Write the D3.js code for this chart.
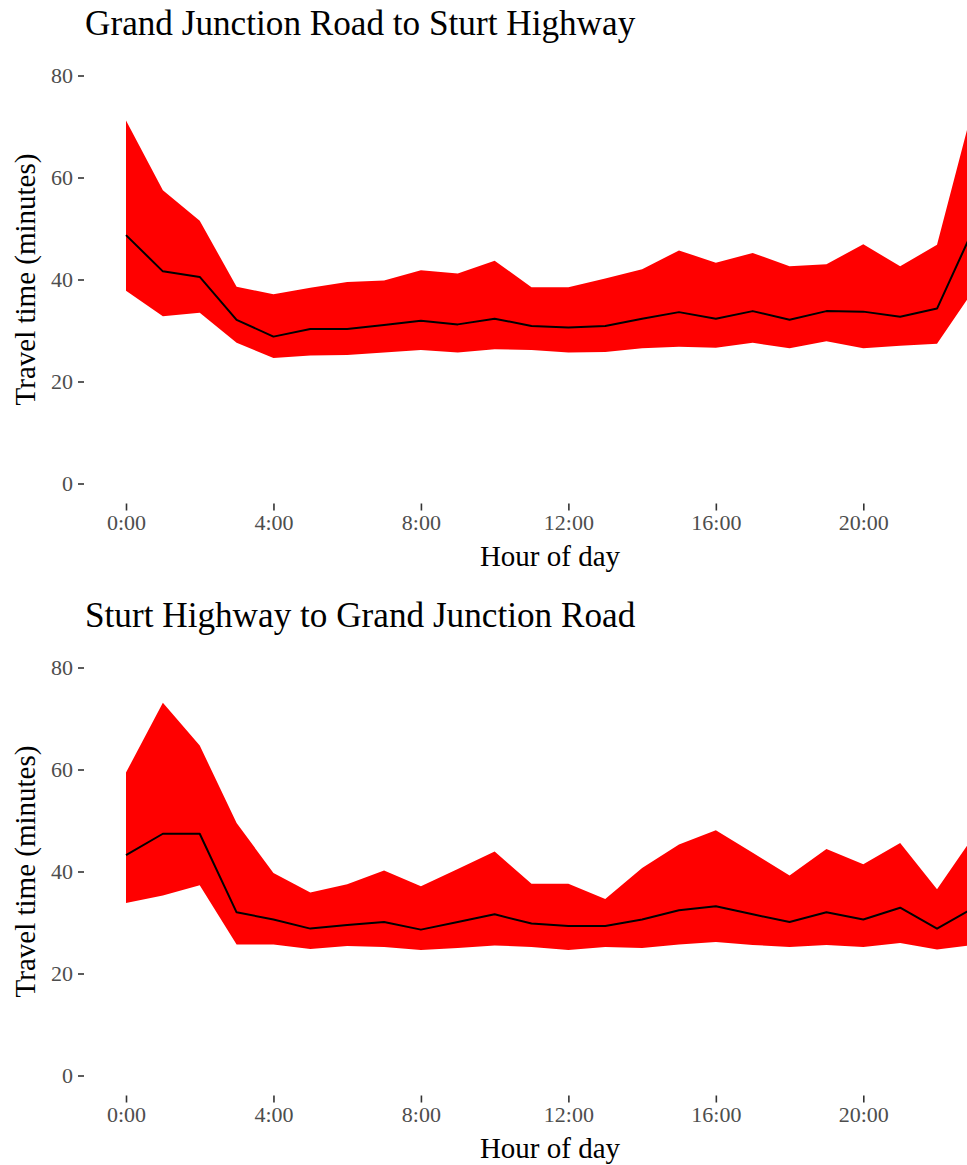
<!DOCTYPE html>
<html>
<head>
<meta charset="utf-8">
<script src="https://cdn.jsdelivr.net/npm/d3@7"></script>
<style>
  html, body { margin: 0; padding: 0; background: #fff; }
  svg { display: block; }
  text { font-family: "Liberation Serif", "Times New Roman", serif; }
</style>
</head>
<body>
<script>
// ---- Data ----
const hours = d3.range(0, 24);
const xTickValues = [0, 4, 8, 12, 16, 20];
const xTickLabels = ["0:00", "4:00", "8:00", "12:00", "16:00", "20:00"];
const yTickValues = [0, 20, 40, 60, 80];

const titles = ["Grand Junction Road to Sturt Highway", "Sturt Highway to Grand Junction Road"];

// Panel 1: Grand Junction Road -> Sturt Highway
const p1Upper = [71.2, 57.5, 51.5, 38.6, 37.1, 38.4, 39.5, 39.8, 41.8, 41.2, 43.7, 38.5,
                 38.5, 40.2, 42.0, 45.7, 43.3, 45.2, 42.6, 43.0, 46.9, 42.6, 46.8, 74.5];
const p1Mean  = [48.7, 41.6, 40.5, 32.1, 28.8, 30.3, 30.3, 31.1, 31.9, 31.2, 32.3, 30.9,
                 30.6, 30.9, 32.3, 33.6, 32.3, 33.8, 32.1, 33.8, 33.7, 32.7, 34.3, 50.1];
const p1Lower = [37.8, 32.8, 33.5, 27.6, 24.6, 25.1, 25.2, 25.7, 26.2, 25.7, 26.3, 26.2,
                 25.7, 25.8, 26.5, 26.8, 26.6, 27.6, 26.5, 27.9, 26.5, 27.0, 27.4, 38.0];

// Panel 2: Sturt Highway -> Grand Junction Road
const p2Upper = [59.4, 73.1, 64.7, 49.5, 39.7, 35.9, 37.5, 40.2, 37.1, 40.5, 43.9, 37.6,
                 37.6, 34.6, 40.7, 45.3, 48.1, 43.7, 39.2, 44.4, 41.4, 45.6, 36.5, 47.0];
const p2Mean  = [43.2, 47.4, 47.4, 32.0, 30.6, 28.8, 29.5, 30.1, 28.6, 30.1, 31.6, 29.8,
                 29.3, 29.3, 30.6, 32.4, 33.2, 31.6, 30.1, 32.0, 30.6, 32.9, 28.8, 32.9];
const p2Lower = [33.8, 35.3, 37.3, 25.7, 25.7, 24.8, 25.4, 25.2, 24.6, 25.0, 25.5, 25.2,
                 24.6, 25.2, 25.0, 25.7, 26.2, 25.6, 25.2, 25.6, 25.2, 26.0, 24.7, 25.6];

const panels = [
  {title: titles[0], upper: p1Upper, mean: p1Mean, lower: p1Lower, offset: 0},
  {title: titles[1], upper: p2Upper, mean: p2Mean, lower: p2Lower, offset: 592}
];

// ---- Layout ----
const W = 967, H = 1165;
const svg = d3.select("body").append("svg")
  .attr("width", W).attr("height", H)
  .attr("viewBox", `0 0 ${W} ${H}`);

const x = d3.scaleLinear().domain([0, 20]).range([126, 863.3]);

panels.forEach(p => {
  const g = svg.append("g").attr("transform", `translate(0,${p.offset})`);
  const y = d3.scaleLinear().domain([0, 80]).range([483.5, 75.5]);

  const rows = hours.map((h, i) => ({h, lo: p.lower[i], hi: p.upper[i], m: p.mean[i]}));

  g.append("path")
    .datum(rows)
    .attr("fill", "#FF0000")
    .attr("d", d3.area().x(d => x(d.h)).y0(d => y(d.lo)).y1(d => y(d.hi)));

  g.append("path")
    .datum(rows)
    .attr("fill", "none")
    .attr("stroke", "#000")
    .attr("stroke-width", 2)
    .attr("stroke-linejoin", "round")
    .attr("d", d3.line().x(d => x(d.h)).y(d => y(d.m)));

  // Y axis (ticks only, no line)
  const yAxis = d3.axisLeft(y).tickValues(yTickValues).tickSize(6).tickPadding(5);
  const ya = g.append("g").attr("transform", "translate(84,0)").call(yAxis);
  ya.select(".domain").remove();
  ya.selectAll(".tick line").attr("stroke", "#333333").attr("stroke-width", 1.6);
  ya.selectAll(".tick text")
    .attr("fill", "#4D4D4D")
    .style("font-size", "22px")
    .style("font-family", "'Liberation Serif', serif");

  // X axis
  const xAxis = d3.axisBottom(x).tickValues(xTickValues)
    .tickFormat((d, i) => xTickLabels[i]).tickSize(7).tickPadding(4);
  const xa = g.append("g").attr("transform", "translate(0,503.5)").call(xAxis);
  xa.select(".domain").remove();
  xa.selectAll(".tick line").attr("stroke", "#333333").attr("stroke-width", 1.6);
  xa.selectAll(".tick text")
    .attr("fill", "#4D4D4D")
    .style("font-size", "22px")
    .style("font-family", "'Liberation Serif', serif");

  // Title
  g.append("text")
    .attr("x", 85).attr("y", 35)
    .style("font-size", "35.2px")
    .attr("fill", "#000")
    .text(p.title);

  // X axis title
  g.append("text")
    .attr("x", 550).attr("y", 566)
    .attr("text-anchor", "middle")
    .style("font-size", "29px")
    .attr("fill", "#000")
    .text("Hour of day");

  // Y axis title
  g.append("text")
    .attr("transform", `translate(35,${(75.5 + 483.5) / 2}) rotate(-90)`)
    .attr("text-anchor", "middle")
    .style("font-size", "29px")
    .attr("fill", "#000")
    .text("Travel time (minutes)");
});
</script>
</body>
</html>
